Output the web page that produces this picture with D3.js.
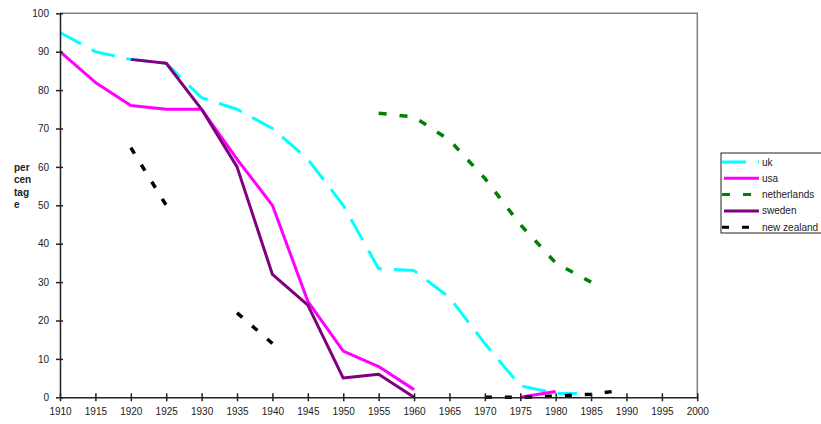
<!DOCTYPE html>
<html>
<head>
<meta charset="utf-8">
<script src="https://cdn.jsdelivr.net/npm/d3@7"></script>
<style>
  body { margin: 0; background: #fff; }
  svg { display: block; font-family: Arial, "Liberation Sans", sans-serif; }
</style>
</head>
<body>
<svg width="821" height="424"></svg>
<script>
// series data (null = no value, leaves a gap)
var ukYears = [1910, 1915, 1920, 1925, 1930, 1935, 1940, 1945, 1950, 1955, 1960, 1965, 1970, 1975, 1980, 1983];
var ukValues = [95, 90, 88, 87, 78, 75, 70, 62, 50, 33.5, 33, 26, 14, 3, 1, 1];

var usaYears = [1910, 1915, 1920, 1925, 1930, 1935, 1940, 1945, 1950, 1955, 1960, 1965, 1970, 1975, 1980];
var usaValues = [90, 82, 76, 75, 75, 62, 50, 25, 12, 8, 2, null, null, 0, 1.5];

var nlYears = [1955, 1960, 1965, 1970, 1975, 1980, 1985];
var nlValues = [74, 73, 67, 57, 45, 35, 30];

var swedenYears = [1920, 1925, 1930, 1935, 1940, 1945, 1950, 1955, 1960];
var swedenValues = [88, 87, 75, 60, 32, 24, 5, 6, 0];

var nzYears = [1920, 1925, 1930, 1935, 1940, 1945, 1970, 1975, 1980, 1985, 1988];
var nzValues = [65, 50, null, 22, 14, null, 0, 0, 0.3, 0.8, 1.5];

var seriesNames = ["uk", "usa", "netherlands", "sweden", "new zealand"];
var xTicks = [1910, 1915, 1920, 1925, 1930, 1935, 1940, 1945, 1950, 1955, 1960, 1965, 1970, 1975, 1980, 1985, 1990, 1995, 2000];
var yTicks = [0, 10, 20, 30, 40, 50, 60, 70, 80, 90, 100];
var yTitle = ["per", "cen", "tag", "e"];

// styles per series
var styles = [
  { color: "#00ffff", width: 3, dash: "24,12" },
  { color: "#ff00ff", width: 3, dash: null },
  { color: "#008000", width: 3.5, dash: "8,13" },
  { color: "#800080", width: 3, dash: null },
  { color: "#000000", width: 3.5, dash: "7,13" }
];

var series = [
  { years: ukYears, values: ukValues },
  { years: usaYears, values: usaValues },
  { years: nlYears, values: nlValues },
  { years: swedenYears, values: swedenValues },
  { years: nzYears, values: nzValues }
];

var svg = d3.select("svg");
var plotLeft = 60, plotRight = 697.3, plotTop = 13.3, plotBottom = 397.3;

var x = d3.scaleLinear().domain([1910, 2000]).range([plotLeft, plotRight]);
var y = d3.scaleLinear().domain([0, 100]).range([plotBottom, plotTop]);

// plot frame (grey top and right)
svg.append("path")
  .attr("d", "M" + plotLeft + "," + plotTop + "H" + plotRight + "V" + plotBottom)
  .attr("fill", "none")
  .attr("stroke", "#808080")
  .attr("stroke-width", 1.5);

// lines
var line = d3.line()
  .defined(function (d) { return d[1] !== null; })
  .x(function (d) { return x(d[0]); })
  .y(function (d) { return y(d[1]); });

series.forEach(function (s, i) {
  var pts = s.years.map(function (yr, j) { return [yr, s.values[j]]; });
  svg.append("path")
    .datum(pts)
    .attr("d", line)
    .attr("fill", "none")
    .attr("stroke", styles[i].color)
    .attr("stroke-width", styles[i].width)
    .attr("stroke-dasharray", styles[i].dash)
    .attr("stroke-linejoin", "round");
});

// axes
var yAxis = svg.append("g")
  .attr("transform", "translate(" + plotLeft + ",0)")
  .call(d3.axisLeft(y).tickValues(yTicks).tickSize(4).tickSizeOuter(0).tickPadding(7));
yAxis.selectAll(".tick line").attr("x1", 3);

var xAxis = svg.append("g")
  .attr("transform", "translate(0," + plotBottom + ")")
  .call(d3.axisBottom(x).tickValues(xTicks).tickFormat(d3.format("d")).tickSize(4).tickSizeOuter(0).tickPadding(7));
xAxis.selectAll(".tick line").attr("y1", -4);

svg.selectAll(".domain, .tick line").attr("stroke", "#222").attr("stroke-width", 1.5);
svg.selectAll(".tick text").attr("font-size", 10).attr("fill", "#222")
  .attr("font-family", "Arial, 'Liberation Sans', sans-serif");

// y title
svg.append("g").selectAll("text")
  .data(yTitle)
  .enter().append("text")
  .attr("x", 14)
  .attr("y", function (d, i) { return 167 + i * 12.5; })
  .attr("dy", "0.35em")
  .attr("font-size", 10)
  .attr("font-weight", "bold")
  .attr("fill", "#222")
  .text(function (d) { return d; });

// legend
var lg = svg.append("g");
lg.append("rect")
  .attr("x", 721).attr("y", 153)
  .attr("width", 110).attr("height", 80)
  .attr("fill", "#fff")
  .attr("stroke", "#222")
  .attr("stroke-width", 1);

seriesNames.forEach(function (name, i) {
  var ly = 162 + i * 16.3;
  var solid = styles[i].dash === null;
  lg.append("line")
    .attr("x1", solid ? 724 : 722).attr("x2", 759)
    .attr("y1", ly).attr("y2", ly)
    .attr("stroke", styles[i].color)
    .attr("stroke-width", 3)
    .attr("stroke-dasharray", styles[i].dash);
  lg.append("text")
    .attr("x", 762).attr("y", ly)
    .attr("dy", "0.35em")
    .attr("font-size", 10)
    .attr("fill", "#222")
    .text(name);
});
</script>
</body>
</html>
